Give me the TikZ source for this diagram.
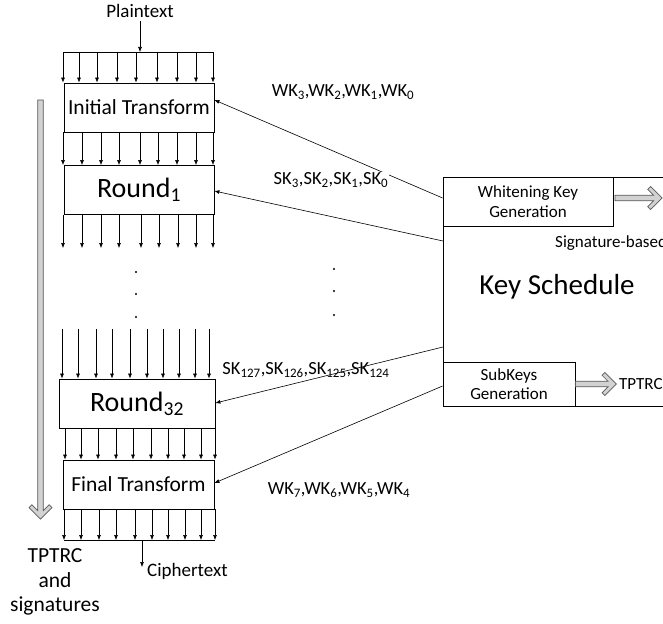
\documentclass[tikz,border=0pt]{standalone}
\usepackage{fontspec}
\setmainfont{Carlito}
\usetikzlibrary{arrows.meta,calc}
\begin{document}
\begin{tikzpicture}[x=1pt,y=-1pt,
  arr/.style={-{Latex[length=5pt,width=4pt]}, line width=0.6pt},
  bus/.style={line width=0.6pt},
  box/.style={draw, line width=0.8pt, inner sep=0pt, align=center, fill=white},
  keyline/.style={line width=0.6pt},
  keylabel/.style={font=\fontsize{18.5}{20}\selectfont},
  garrow/.style={fill=gray!35, draw=black!65, line width=0.7pt, line join=miter},
  dotm/.style={fill=black},
  pics/hollowarrow/.style={code={\filldraw[garrow] (0,-2.8) -- ({#1-8.46},-2.8) -- ({#1-14.33},-8.67) -- ({#1-11.5},-11.5) -- (#1,0) -- ({#1-11.5},11.5) -- ({#1-14.33},8.67) -- ({#1-8.46},2.8) -- (0,2.8) -- cycle;}},
]
\useasboundingbox (0,0) rectangle (663,623);

% --- cipher column boxes
\node[box, minimum width=150pt, minimum height=49pt, font=\fontsize{21.5}{24}\selectfont] (init) at (139,107.5) {Initial Transform};
\node[box, minimum width=150pt, minimum height=49pt, font=\fontsize{28}{30}\selectfont] (r1) at (139,190) {Round\textsubscript{1}};
\node[box, minimum width=156pt, minimum height=49pt, font=\fontsize{28}{30}\selectfont] (r32) at (137,403.5) {Round\textsubscript{32}};
\node[box, minimum width=151pt, minimum height=49pt, font=\fontsize{21.5}{24}\selectfont] (fin) at (138.5,484.5) {Final Transform};

% --- plaintext input
\node[font=\fontsize{19}{21}\selectfont] (plain) at (140,11) {Plaintext};
\coordinate (busTL) at (63,52);
\coordinate (busTR) at (213,52);
\draw[bus] (busTL) -- (busTR);
\draw[arr] (plain.south) -- (plain.south |- busTL);
\foreach \x in {63,79,97,117,136,157,177,196,213}
  \draw[arr] (\x,52) -- (\x,0 |- init.north);
\foreach \x in {63,82,101,119,140,158,177,196,213}
  \draw[arr] (\x,0 |- init.south) -- (\x,0 |- r1.north);
\foreach \x in {63,82,101,119,141,159,178,196,213}
  \draw[arr] (\x,0 |- r1.south) -- (\x,248);
\foreach \x in {62,78,96,112,130,147,163,179,195,209}
  \draw[arr] (\x,329) -- (\x,0 |- r32.north);
\foreach \x in {65,81,98,116,133,151,168,184,201,215}
  \draw[arr] (\x,0 |- r32.south) -- (\x,0 |- fin.north);
\foreach \x in {64,81,99,116,135,152,168,185,201,215}
  \draw[arr] (\x,0 |- fin.south) -- (\x,540);
\coordinate (busBL) at (64,540);
\coordinate (busBR) at (215,540);
\draw[bus] (busBL) -- (busBR);
\node[anchor=west, inner sep=0pt, font=\fontsize{19}{21}\selectfont] (ctext) at (147,571) {Ciphertext};
\coordinate (cstart) at (142,540);
\draw[arr] (cstart) -- (cstart |- 0,567);

% --- dots
\foreach \y in {272,294,317} \fill[dotm] (136,\y) circle (1.1pt);
\foreach \y in {269,291,315} \fill[dotm] (334,\y) circle (1.1pt);

% --- left progress arrow
\pic[rotate=-90] at (40.5,100) {hollowarrow=419};
\node[align=center, inner sep=0pt, font=\fontsize{21.5}{24.5}\selectfont] (tptrcl) at (55,582) {TPTRC\\and\\signatures};

% --- key schedule
\node[box, anchor=north west, minimum width=300pt, minimum height=229pt] (ks) at (443,177) {};
\node[box, minimum width=170pt, minimum height=49pt, font=\fontsize{17}{19.5}\selectfont] (wkg) at (528,201.5) {Whitening Key\\Generation};
\node[box, minimum width=132pt, minimum height=44pt, font=\fontsize{17}{19.5}\selectfont] (skg) at (509,384) {SubKeys\\Generation};
\node[font=\fontsize{29}{32}\selectfont] (kstext) at (557,287) {Key Schedule};
\node[anchor=west, inner sep=0pt, font=\fontsize{17}{19}\selectfont] (sig) at (555,243) {Signature-based};
\node[anchor=west, inner sep=0pt, font=\fontsize{17}{19}\selectfont] (tptrcr) at (619,384) {TPTRC};
\pic at (615,198) {hollowarrow=47};
\pic at (skg.east) {hollowarrow=41};

% --- key connectors
\draw[arr, keyline] (wkg.west |- 0,198) -- (init.east |- 0,100);
\draw[arr, keyline] (ks.west |- 0,241) -- (r1.east |- 0,191);
\node[keylabel] (sk127) at (306,370) {SK\textsubscript{127},SK\textsubscript{126},SK\textsubscript{125},SK\textsubscript{124}};
\draw[arr, keyline] (ks.west |- 0,347) -- (r32.east |- 0,403);
\draw[arr, keyline] (skg.west |- 0,386) -- (fin.east |- 0,483);

% --- key labels
\node[keylabel] (wka) at (343,92) {WK\textsubscript{3},WK\textsubscript{2},WK\textsubscript{1},WK\textsubscript{0}};
\node[keylabel, fill=white, inner sep=1pt] (ska) at (331,180) {SK\textsubscript{3},SK\textsubscript{2},SK\textsubscript{1},SK\textsubscript{0}};
\node[keylabel] (wkb) at (339,490) {WK\textsubscript{7},WK\textsubscript{6},WK\textsubscript{5},WK\textsubscript{4}};
\end{tikzpicture}
\end{document}
